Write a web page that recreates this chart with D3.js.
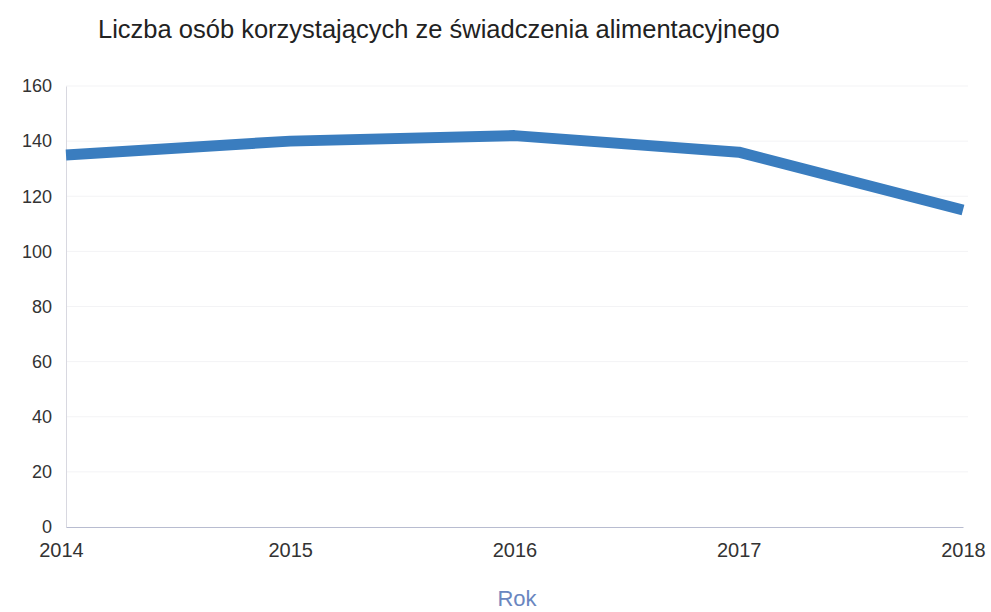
<!DOCTYPE html>
<html><head><meta charset="utf-8">
<script src="https://cdn.jsdelivr.net/npm/d3@7"></script>
<style>body{margin:0;background:#fff}svg{display:block}</style>
</head><body>
<svg id="c" width="991" height="612"></svg>
<script>
const years = [2014, 2015, 2016, 2017, 2018];
const values = [135, 140, 142, 136, 115];
const yTicks = [0, 20, 40, 60, 80, 100, 120, 140, 160];
const titleText = "Liczba osób korzystających ze świadczenia alimentacyjnego";
const xTitle = "Rok";

(function () {
const svg = d3.select("#c");
const mL = 66, mR = 963, mT = 86, mB = 527;
const x = d3.scaleLinear().domain([2014, 2018]).range([mL, mR]);
const y = d3.scaleLinear().domain([0, 160]).range([mB, mT]);
const font = "Liberation Sans, Arial, sans-serif";

// gridlines
svg.append("g").selectAll("line").data(yTicks.filter(d => d > 0)).join("line")
  .attr("x1", mL).attr("x2", mR + 5)
  .attr("y1", d => y(d)).attr("y2", d => y(d))
  .attr("stroke", "#f3f3f5").attr("stroke-width", 1);

// y axis
const ya = svg.append("g").attr("transform", `translate(${mL},0)`)
  .call(d3.axisLeft(y).tickValues(yTicks).tickSize(0).tickPadding(14).tickFormat(d3.format("d")));
ya.select(".domain").attr("stroke", "#d8d8e0");
ya.selectAll("text").attr("font-family", font).attr("font-size", 18).attr("fill", "#333");

// x axis
const xa = svg.append("g").attr("transform", `translate(0,${mB})`)
  .call(d3.axisBottom(x).tickValues(years).tickSize(0).tickPadding(16).tickFormat(d3.format("d")));
xa.select(".domain").attr("stroke", "#b8bcd0");
xa.selectAll("text").attr("font-family", font).attr("font-size", 20).attr("fill", "#333");
xa.selectAll(".tick text").attr("dx", (d, i) => i === 0 ? -5 : 0);

// line
svg.append("path").datum(values)
  .attr("d", d3.line().x((d, i) => x(years[i])).y(d => y(d)))
  .attr("fill", "none").attr("stroke", "#3a7dbf").attr("stroke-width", 11)
  .attr("stroke-linejoin", "round").attr("stroke-linecap", "butt");

// title
svg.append("text").attr("x", 98).attr("y", 38).text(titleText)
  .attr("font-family", font).attr("font-size", 25.5).attr("fill", "#222");

// x title
svg.append("text").attr("x", 517).attr("y", 606).attr("text-anchor", "middle").text(xTitle)
  .attr("font-family", font).attr("font-size", 22).attr("fill", "#6a86c0");
})();
</script>
</body></html>
